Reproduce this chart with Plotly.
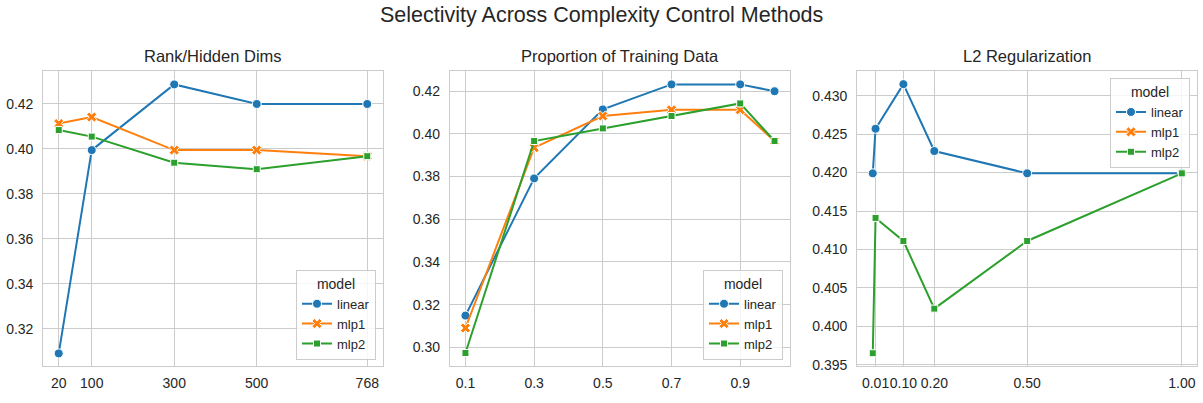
import plotly.graph_objects as go

# ---- data ----
models = ["linear", "mlp1", "mlp2"]

rank_x = [20, 100, 300, 500, 768]
rank_linear = [0.309, 0.3994, 0.4286, 0.4199, 0.4199]
rank_mlp1 = [0.4112, 0.4141, 0.3994, 0.3994, 0.3967]
rank_mlp2 = [0.4083, 0.4054, 0.3938, 0.3909, 0.3967]

prop_x = [0.1, 0.3, 0.5, 0.7, 0.9, 1.0]
prop_linear = [0.3149, 0.3791, 0.4114, 0.4231, 0.4231, 0.4199]
prop_mlp1 = [0.3091, 0.3935, 0.4083, 0.4112, 0.4112, 0.3966]
prop_mlp2 = [0.2974, 0.3966, 0.4025, 0.4083, 0.4142, 0.3966]

l2_x = [0.001, 0.01, 0.1, 0.2, 0.5, 1.0]
l2_linear = [0.4199, 0.4257, 0.4315, 0.4228, 0.4199, 0.4199]
l2_mlp1 = [None, None, None, None, None, None]
l2_mlp2 = [0.3965, 0.4141, 0.4111, 0.4023, 0.4111, 0.4199]

titles = ["Rank/Hidden Dims", "Proportion of Training Data", "L2 Regularization"]
suptitle = "Selectivity Across Complexity Control Methods"

rank_ticks = [20, 100, 300, 500, 768]
prop_ticks = [0.1, 0.3, 0.5, 0.7, 0.9]
l2_ticks = [0.01, 0.1, 0.2, 0.5, 1.0]
l2_ticktext = ["0.01", "0.10", "0.20", "0.50", "1.00"]

# ---- style ----
W, H = 1203, 403
colors = {"linear": "#1f77b4", "mlp1": "#ff7f0e", "mlp2": "#2ca02c"}
symbols = {"linear": "circle", "mlp1": "x", "mlp2": "square"}
msize = {"linear": 9, "mlp1": 9, "mlp2": 7}
FONT = "Liberation Sans, Arial, sans-serif"
TXT = "#262626"
GRID = "#cccccc"

fig = go.Figure()

panels = [
    (rank_x, [rank_linear, rank_mlp1, rank_mlp2]),
    (prop_x, [prop_linear, prop_mlp1, prop_mlp2]),
    (l2_x, [l2_linear, l2_mlp1, l2_mlp2]),
]

xdom_px = [(43.3, 382.7), (450.0, 790.0), (857.3, 1197.3)]
ytop_px, ybot_px = 72.0, 372.0
ydom = [1 - ybot_px / H, 1 - ytop_px / H]

for i, (xs, series) in enumerate(panels):
    axn = "" if i == 0 else str(i + 1)
    leg = "legend" if i == 0 else f"legend{i + 1}"
    for m, ys in zip(models, series):
        fig.add_trace(go.Scatter(
            x=xs, y=ys, mode="lines+markers", name=m,
            xaxis="x" + axn, yaxis="y" + axn, legend=leg,
            line=dict(color=colors[m], width=2),
            marker=dict(symbol=symbols[m], size=msize[m], color=colors[m],
                        line=dict(color="white", width=1)),
            showlegend=True,
        ))

axis_common = dict(showgrid=True, gridcolor=GRID, gridwidth=1, zeroline=False,
                   showline=True, linecolor=GRID, linewidth=1.25, mirror=True,
                   ticks="", tickfont=dict(size=14, color=TXT, family=FONT))

xranges = [[-17.4, 805.4], [0.055, 1.045], [-0.049, 1.05]]
yranges = [[0.3032, 0.4346], [0.2911, 0.4294], [0.39478, 0.43322]]
xtick_cfg = [
    dict(tickvals=rank_ticks, ticktext=[str(t) for t in rank_ticks]),
    dict(tickvals=prop_ticks, ticktext=[f"{t:.1f}" for t in prop_ticks]),
    dict(tickvals=l2_ticks, ticktext=l2_ticktext),
]
ytick_cfg = [
    dict(tick0=0.32, dtick=0.02, tickformat=".2f"),
    dict(tick0=0.30, dtick=0.02, tickformat=".2f"),
    dict(tick0=0.395, dtick=0.005, tickformat=".3f"),
]

layout = {}
for i in range(3):
    axn = "" if i == 0 else str(i + 1)
    x0, x1 = xdom_px[i]
    layout["xaxis" + axn] = dict(axis_common, domain=[x0 / W, x1 / W], range=xranges[i],
                                 anchor="y" + axn, tickmode="array", tickangle=0,
                                 ticklabelstandoff=4, **xtick_cfg[i])
    layout["yaxis" + axn] = dict(axis_common, domain=ydom, range=yranges[i],
                                 anchor="x" + axn, tickmode="linear",
                                 ticklabelstandoff=6, **ytick_cfg[i])

legend_common = dict(bgcolor="rgba(255,255,255,0.8)", bordercolor=GRID, borderwidth=1,
                     font=dict(size=13, color=TXT, family=FONT),
                     title=dict(text="model", side="top center",
                                font=dict(size=14, color=TXT, family=FONT)),
                     tracegroupgap=0, itemwidth=30)
layout["legend"] = dict(legend_common, x=376 / W, y=1 - 365 / H, xanchor="right", yanchor="bottom")
layout["legend2"] = dict(legend_common, x=783 / W, y=1 - 365 / H, xanchor="right", yanchor="bottom")
layout["legend3"] = dict(legend_common, x=1190 / W, y=1 - 79 / H, xanchor="right", yanchor="top")

annotations = [dict(text=suptitle, x=0.5, y=1 - 15 / H, xref="paper", yref="paper",
                    xanchor="center", yanchor="middle", showarrow=False,
                    font=dict(size=21.5, color=TXT, family=FONT))]
for i, t in enumerate(titles):
    x0, x1 = xdom_px[i]
    annotations.append(dict(text=t, x=(x0 + x1) / 2 / W, y=1 - 57 / H, xref="paper", yref="paper",
                            xanchor="center", yanchor="middle", showarrow=False,
                            font=dict(size=16.5, color=TXT, family=FONT)))

fig.update_layout(width=W, height=H, margin=dict(l=0, r=0, t=0, b=0),
                  plot_bgcolor="white", paper_bgcolor="white",
                  annotations=annotations, font=dict(family=FONT, color=TXT),
                  **layout)

fig.write_html("out.html")
